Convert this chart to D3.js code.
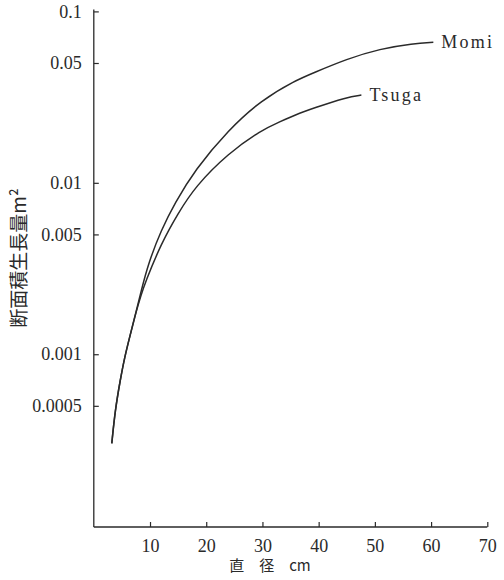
<!DOCTYPE html>
<html>
<head>
<meta charset="utf-8">
<script src="https://cdn.jsdelivr.net/npm/d3@7"></script>
<style>
  html, body { margin: 0; padding: 0; background: #fff; }
  svg { display: block; }
</style>
</head>
<body>
<svg id="chart" width="504" height="580"></svg>
<script>
// ---- data ----
const xTicks = [10, 20, 30, 40, 50, 60, 70];
const yTicks = [0.1, 0.05, 0.01, 0.005, 0.001, 0.0005];
const yTickLabels = ["0.1", "0.05", "0.01", "0.005", "0.001", "0.0005"];

const momiX = [3.2, 3.8, 4.7, 5.5, 6.4, 7.6, 8.4, 9.7, 12.0, 14.4, 18.0, 23.9, 29.8, 35.8, 39.0, 45.0, 50.9, 56.8, 60.4];
const momiY = [0.000302, 0.000472, 0.000706, 0.000966, 0.001265, 0.00181, 0.00232, 0.00339, 0.00531, 0.0076, 0.0119, 0.0203, 0.0304, 0.0395, 0.0437, 0.0528, 0.0605, 0.0650, 0.0660];

const tsugaX = [3.2, 3.8, 4.7, 5.5, 6.4, 7.6, 8.4, 9.1, 12.0, 15.0, 18.0, 23.9, 29.8, 33.1, 35.8, 39.0, 45.0, 47.6];
const tsugaY = [0.000302, 0.000472, 0.000706, 0.000966, 0.001265, 0.00181, 0.0022, 0.0026, 0.00444, 0.00664, 0.00948, 0.01486, 0.0203, 0.0227, 0.0249, 0.0272, 0.0316, 0.0325];

const seriesNames = ["Momi", "Tsuga"];
const xTitle = "直　径　cm";
const yTitle = "断面積生長量m²";

// ---- layout ----
const svg = d3.select("#chart");
const ink = "#2a2a2a";
const serif = "'Liberation Serif', 'DejaVu Serif', serif";

const x = d3.scaleLinear().domain([0, 70]).range([93.8, 487.3]);
const y = d3.scaleLog().domain([0.0000982, 0.1]).range([527, 11.4]);

// x axis
const xAxis = d3.axisBottom(x).tickValues(xTicks).tickSize(-5).tickPadding(12)
  .tickFormat(d3.format("d"));
const gx = svg.append("g").attr("transform", `translate(0,${y(0.0000982)})`).call(xAxis)
  .attr("font-family", serif);
gx.select(".domain").attr("d", `M${x(0)},0H${x(70)}`).attr("stroke", ink).attr("stroke-width", 1.3);
gx.selectAll(".tick line").attr("stroke", ink).attr("stroke-width", 1.2);
gx.selectAll(".tick text")
  .style("font-family", serif)
  .attr("font-size", 18).attr("fill", ink);

// y axis
const yAxis = d3.axisLeft(y).tickValues(yTicks).tickSize(-5).tickPadding(12)
  .tickFormat((d, i) => yTickLabels[i]);
const gy = svg.append("g").attr("transform", `translate(${x(0)},0)`).call(yAxis)
  .attr("font-family", serif);
gy.select(".domain").attr("d", `M0,${y(0.1) - 2}V${y(0.0000982)}`).attr("stroke", ink).attr("stroke-width", 1.3);
gy.selectAll(".tick line").attr("stroke", ink).attr("stroke-width", 1.2);
gy.selectAll(".tick text")
  .style("font-family", serif)
  .attr("font-size", 18).attr("fill", ink);

// curves
const line = d3.line()
  .x(d => x(d[0]))
  .y(d => y(d[1]))
  .curve(d3.curveBasis);

const momi = momiX.map((v, i) => [v, momiY[i]]);
const tsuga = tsugaX.map((v, i) => [v, tsugaY[i]]);

[momi, tsuga].forEach(s => {
  svg.append("path").datum(s).attr("d", line)
    .attr("fill", "none").attr("stroke", ink).attr("stroke-width", 1.5);
});

// series labels
const ends = [momi[momi.length - 1], tsuga[tsuga.length - 1]];
ends.forEach((e, i) => {
  svg.append("text")
    .attr("x", x(e[0]) + 8)
    .attr("y", y(e[1]) + 6)
    .style("font-family", serif)
    .attr("font-size", 18)
    .attr("letter-spacing", 2.2)
    .attr("fill", ink)
    .text(seriesNames[i]);
});

// axis titles
svg.append("text")
  .attr("x", 270).attr("y", 571)
  .attr("text-anchor", "middle")
  .attr("font-family", "'Noto Sans CJK JP', sans-serif")
  .attr("font-size", 15)
  .attr("fill", ink)
  .text(xTitle);

svg.append("text")
  .attr("transform", "translate(26,258) rotate(-90)")
  .attr("text-anchor", "middle")
  .attr("font-family", "'Noto Sans CJK JP', sans-serif")
  .attr("font-size", 19)
  .attr("fill", ink)
  .text(yTitle);
</script>
</body>
</html>
